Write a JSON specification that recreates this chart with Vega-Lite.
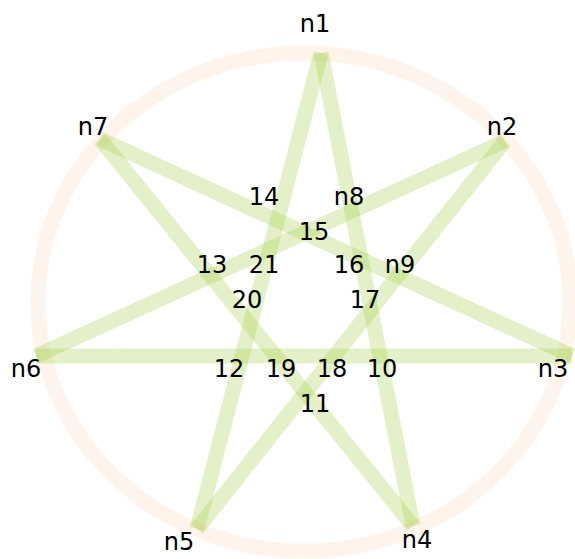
{
  "$schema": "https://vega.github.io/schema/vega-lite/v6.json",
  "width": 575,
  "height": 559,
  "padding": 0,
  "autosize": {"type": "none"},
  "background": "white",
  "config": {"view": {"stroke": null}},
  "datasets": {
    "ring": [{"x": 304, "y": 302}],
    "edges": [
      {"from": "n1", "to": "n4", "x": 321, "y": 53, "xe": 413, "ye": 526},
      {"from": "n1", "to": "n5", "x": 321, "y": 53, "xe": 197, "ye": 529},
      {"from": "n2", "to": "n5", "x": 505, "y": 141, "xe": 197, "ye": 529},
      {"from": "n2", "to": "n6", "x": 505, "y": 141, "xe": 36, "ye": 356},
      {"from": "n3", "to": "n6", "x": 572, "y": 356, "xe": 36, "ye": 356},
      {"from": "n3", "to": "n7", "x": 572, "y": 356, "xe": 100, "ye": 139},
      {"from": "n4", "to": "n7", "x": 413, "y": 526, "xe": 100, "ye": 139}
    ],
    "labels": [
      {"label": "n1", "x": 315, "y": 32},
      {"label": "n2", "x": 502, "y": 135},
      {"label": "n3", "x": 553, "y": 377},
      {"label": "n4", "x": 417, "y": 548},
      {"label": "n5", "x": 179, "y": 550},
      {"label": "n6", "x": 26, "y": 377},
      {"label": "n7", "x": 93, "y": 135},
      {"label": "14", "x": 264, "y": 205},
      {"label": "n8", "x": 349, "y": 205},
      {"label": "15", "x": 314, "y": 240},
      {"label": "13", "x": 212, "y": 273},
      {"label": "21", "x": 264, "y": 273},
      {"label": "16", "x": 349, "y": 273},
      {"label": "n9", "x": 400, "y": 273},
      {"label": "20", "x": 247, "y": 308},
      {"label": "17", "x": 365, "y": 308},
      {"label": "12", "x": 229, "y": 377},
      {"label": "19", "x": 281, "y": 377},
      {"label": "18", "x": 332, "y": 377},
      {"label": "10", "x": 382, "y": 377},
      {"label": "11", "x": 315, "y": 412}
    ]
  },
  "layer": [
    {
      "data": {"name": "ring"},
      "mark": {
        "type": "point",
        "shape": "M -1 0 A 1 0.936 0 1 1 1 0 A 1 0.936 0 1 1 -1 0 Z",
        "filled": false,
        "stroke": "#fef4eb",
        "strokeWidth": 15,
        "strokeOpacity": 1,
        "opacity": 1,
        "size": 283024
      },
      "encoding": {
        "x": {"field": "x", "type": "quantitative", "scale": {"domain": [0, 575], "nice": false, "zero": false}, "axis": null},
        "y": {"field": "y", "type": "quantitative", "scale": {"domain": [0, 559], "nice": false, "zero": false, "reverse": true}, "axis": null}
      }
    },
    {
      "data": {"name": "edges"},
      "mark": {"type": "rule", "color": "yellowgreen", "strokeWidth": 15, "opacity": 0.27, "strokeCap": "butt"},
      "encoding": {
        "x": {"field": "x", "type": "quantitative", "scale": {"domain": [0, 575], "nice": false, "zero": false}, "axis": null},
        "y": {"field": "y", "type": "quantitative", "scale": {"domain": [0, 559], "nice": false, "zero": false, "reverse": true}, "axis": null},
        "x2": {"field": "xe"},
        "y2": {"field": "ye"}
      }
    },
    {
      "data": {"name": "labels"},
      "mark": {"type": "text", "font": "DejaVu Sans", "fontSize": 24, "baseline": "alphabetic", "align": "center", "color": "black"},
      "encoding": {
        "x": {"field": "x", "type": "quantitative", "scale": {"domain": [0, 575], "nice": false, "zero": false}, "axis": null},
        "y": {"field": "y", "type": "quantitative", "scale": {"domain": [0, 559], "nice": false, "zero": false, "reverse": true}, "axis": null},
        "text": {"field": "label"}
      }
    }
  ]
}
